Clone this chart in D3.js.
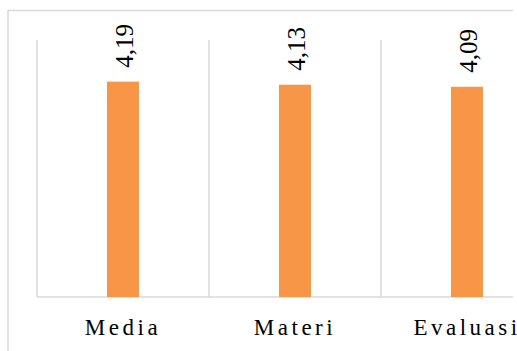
<!DOCTYPE html>
<html><head><meta charset="utf-8">
<script src="https://cdn.jsdelivr.net/npm/d3@7"></script>
<style>html,body{margin:0;padding:0;background:#fff;overflow:hidden;}</style>
</head><body>
<script>
const categories = ["Media", "Materi", "Evaluasi"];
const values = [4.19, 4.13, 4.09];
const valueLabels = ["4,19", "4,13", "4,09"];
const yDomain = [0, 5];

const W = 517, H = 351;
const svg = d3.select("body").append("svg").attr("width", W).attr("height", H);
const plot = {left: 37, top: 40, bottom: 297, bandW: 172};
const x = d3.scaleBand().domain(categories).range([plot.left, plot.left + plot.bandW * categories.length]).padding(0);
const y = d3.scaleLinear().domain(yDomain).range([plot.bottom, plot.top]);
const grey = "#d9d9d9";
const clipRight = 513;

// outer chart border (left and top visible)
svg.append("line").attr("x1", 8).attr("x2", clipRight).attr("y1", 10.5).attr("y2", 10.5).attr("stroke", grey).attr("stroke-width", 1.5);
svg.append("line").attr("x1", 8).attr("x2", 8).attr("y1", 10).attr("y2", H).attr("stroke", grey).attr("stroke-width", 1.5);

// vertical category gridlines
const bounds = categories.map(c => x(c));
svg.selectAll(".vg").data(bounds).enter().append("line")
  .attr("x1", d => d).attr("x2", d => d)
  .attr("y1", y(yDomain[1])).attr("y2", y(0))
  .attr("stroke", grey).attr("stroke-width", 1.5);

// baseline
svg.append("line").attr("x1", plot.left).attr("x2", clipRight).attr("y1", y(0)).attr("y2", y(0))
  .attr("stroke", grey).attr("stroke-width", 1.5);

const barW = 32;
svg.selectAll(".bar").data(values).enter().append("rect")
  .attr("x", (d, i) => x(categories[i]) + x.bandwidth() / 2 - barW / 2)
  .attr("y", d => y(d))
  .attr("width", barW)
  .attr("height", d => y(0) - y(d))
  .attr("fill", "#F79646");

svg.selectAll(".vl").data(values).enter().append("text")
  .attr("transform", (d, i) => `translate(${x(categories[i]) + x.bandwidth() / 2 + 1},${y(d) - 14}) rotate(-90)`)
  .attr("dy", "0.36em")
  .attr("text-anchor", "start")
  .attr("font-family", "'Liberation Serif', 'Times New Roman', serif")
  .attr("font-size", 25)
  .attr("fill", "#000")
  .text((d, i) => valueLabels[i]);

svg.selectAll(".cl").data(categories).enter().append("text")
  .attr("x", d => x(d) + x.bandwidth() / 2)
  .attr("y", 335)
  .attr("text-anchor", "middle")
  .attr("font-family", "'Liberation Serif', 'Times New Roman', serif")
  .attr("font-size", 23)
  .attr("letter-spacing", "3.5px")
  .attr("fill", "#000")
  .text(d => d);
</script>
</body></html>
